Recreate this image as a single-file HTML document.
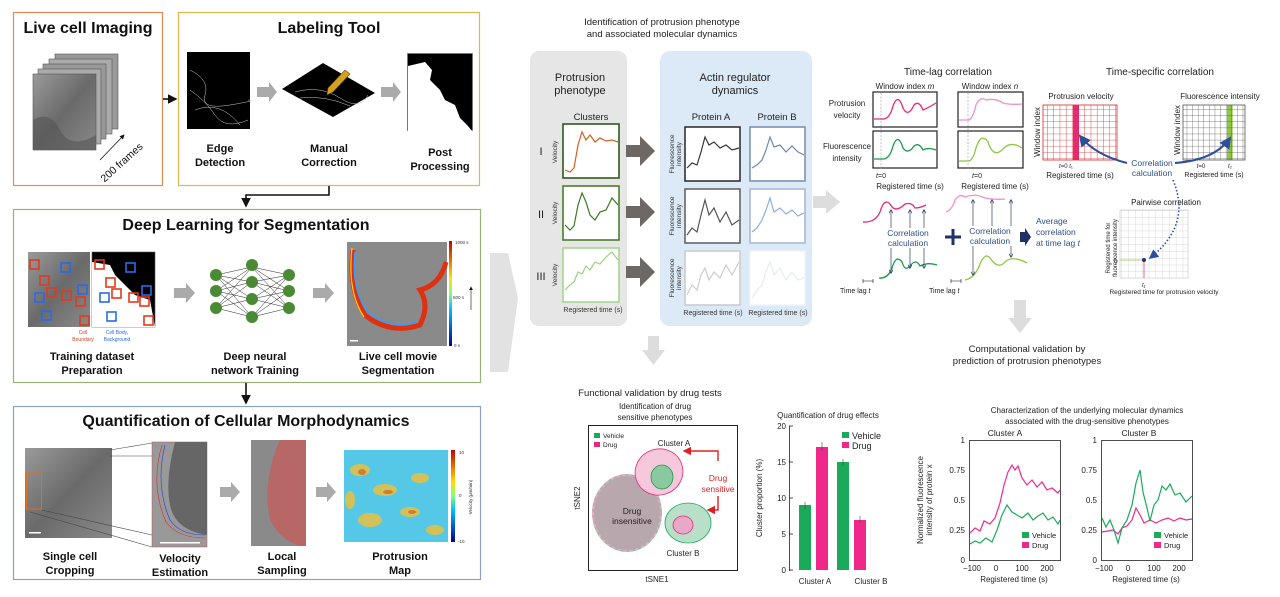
<!DOCTYPE html>
<html><head><meta charset="utf-8"><style>
html,body{margin:0;padding:0;background:#fff;}
svg{display:block;font-family:"Liberation Sans",Arial,sans-serif;}
.t{font-size:9.5px;fill:#222;}
.b{font-weight:bold;font-size:11px;fill:#111;}
.h{font-weight:bold;font-size:16px;fill:#111;}
</style></head><body>
<svg width="1280" height="597" viewBox="0 0 1280 597" xmlns="http://www.w3.org/2000/svg">
<defs>
<marker id="ak" markerWidth="6" markerHeight="6" refX="5" refY="3" orient="auto"><path d="M0,0L6,3L0,6z" fill="#111"/></marker>
<marker id="an" markerWidth="6" markerHeight="6" refX="5" refY="3" orient="auto"><path d="M0,0L6,3L0,6" fill="none" stroke="#2d3e66" stroke-width="1"/></marker>
<marker id="ab" markerWidth="6" markerHeight="6" refX="5" refY="3" orient="auto"><path d="M0,0L6,3L0,6z" fill="#2d4f9a"/></marker>
<marker id="ar" markerWidth="6" markerHeight="6" refX="5" refY="3" orient="auto"><path d="M0,0L6,3L0,6z" fill="#e02020"/></marker>
<pattern id="rg" width="6.2" height="6.1" patternUnits="userSpaceOnUse"><path d="M6.2,0V6.1H0" fill="none" stroke="#d42a2a" stroke-width="0.8"/></pattern>
<pattern id="kg" width="5.6" height="6.1" patternUnits="userSpaceOnUse"><path d="M5.6,0V6.1H0" fill="none" stroke="#555" stroke-width="0.7"/></pattern>
<pattern id="lg" width="6.8" height="6.8" patternUnits="userSpaceOnUse"><path d="M6.8,0V6.8H0" fill="none" stroke="#ccc" stroke-width="0.7"/></pattern>
<linearGradient id="jet" x1="0" y1="1" x2="0" y2="0"><stop offset="0" stop-color="#00008f"/><stop offset="0.35" stop-color="#00c0ff"/><stop offset="0.5" stop-color="#80ff80"/><stop offset="0.65" stop-color="#ffe000"/><stop offset="1" stop-color="#c00000"/></linearGradient>
<linearGradient id="gcell" x1="0" y1="0" x2="1" y2="1"><stop offset="0" stop-color="#9a9a9a"/><stop offset="0.5" stop-color="#6a6a6a"/><stop offset="1" stop-color="#8a8a8a"/></linearGradient>
</defs>

<!-- ===== LEFT PANELS ===== -->
<rect x="13.5" y="12.5" width="149" height="173" fill="none" stroke="#e08a50" stroke-width="1.2"/>
<text x="88" y="33" class="h" text-anchor="middle">Live cell Imaging</text>
<g stroke="#555" stroke-width="0.6">
<rect x="55" y="54" width="63" height="75" fill="#999"/>
<rect x="49" y="59" width="63" height="75" fill="#aaa"/>
<rect x="43" y="64" width="63" height="75" fill="#999"/>
<rect x="38" y="69" width="63" height="75" fill="#aaa"/>
<rect x="33" y="74" width="63" height="76" fill="url(#gcell)"/>
</g>
<path d="M33,120 Q50,110 60,130 T96,135 V150 H33z" fill="#555" opacity="0.6"/>
<line x1="100" y1="160" x2="124" y2="135" stroke="#111" stroke-width="0.8" marker-end="url(#ak)"/>
<text x="124" y="165" font-size="10.5" fill="#111" transform="rotate(-42 124 165)" text-anchor="middle">200 frames</text>

<line x1="163" y1="99" x2="176" y2="99" stroke="#111" stroke-width="1.6" marker-end="url(#ak)"/>

<rect x="178.5" y="12.5" width="301" height="173" fill="none" stroke="#e0b84a" stroke-width="1.2"/>
<text x="329" y="33" class="h" text-anchor="middle">Labeling Tool</text>
<rect x="187" y="52" width="63" height="77" fill="#000"/>
<path d="M190,70 Q210,80 205,95 T230,105 T248,100 M190,90 Q205,100 215,115 T248,120 M195,110 Q220,100 240,125" stroke="#ccc" stroke-width="0.5" fill="none"/>
<polygon points="257,87 269,87 269,82 277,92 269,102 269,97 257,97" fill="#aaa"/>
<polygon points="282,89 323,63 375,93 333,117" fill="#000"/>
<path d="M295,92 Q320,85 340,98 T368,95 M300,98 Q325,95 350,106" stroke="#ccc" stroke-width="0.5" fill="none"/>
<polygon points="328,88 345,70 350,74 333,92 327,95" fill="#d4a020" stroke="#6a4a00" stroke-width="0.6"/>
<polygon points="381,87 393,87 393,82 401,92 393,102 393,97 381,97" fill="#aaa"/>
<rect x="407.5" y="53.5" width="65" height="77" fill="#000" stroke="#777" stroke-width="0.8"/>
<path d="M408,66 L425,62 L432,70 L430,80 L440,90 L445,100 L455,105 L460,118 L468,126 L472,131 H408z" fill="#fff"/>
<text x="220" y="152" class="b" text-anchor="middle">Edge</text>
<text x="220" y="166" class="b" text-anchor="middle">Detection</text>
<text x="329" y="152" class="b" text-anchor="middle">Manual</text>
<text x="329" y="166" class="b" text-anchor="middle">Correction</text>
<text x="440" y="156" class="b" text-anchor="middle">Post</text>
<text x="440" y="170" class="b" text-anchor="middle">Processing</text>

<polyline points="329,186 329,195 246,195 246,206" fill="none" stroke="#111" stroke-width="1.6" marker-end="url(#ak)"/>

<rect x="13.5" y="209.5" width="467" height="173" fill="none" stroke="#9ab07a" stroke-width="1.2"/>
<text x="246" y="230" class="h" text-anchor="middle">Deep Learning for Segmentation</text>
<rect x="28" y="252" width="62" height="75" fill="url(#gcell)"/>
<rect x="92" y="252" width="63" height="75" fill="#000" stroke="#555" stroke-width="0.6"/>
<path d="M92,262 L110,265 L115,275 L125,285 L135,295 L150,300 L155,327 H92z" fill="#fff"/>
<g fill="none" stroke="#e23a1a" stroke-width="1.6">
<rect x="30" y="260" width="9" height="9"/><rect x="40" y="276" width="9" height="9"/><rect x="47" y="288" width="9" height="9"/><rect x="62" y="291" width="9" height="9"/><rect x="76" y="297" width="9" height="9"/><rect x="80" y="316" width="9" height="9"/>
<rect x="95" y="260" width="9" height="9"/><rect x="106" y="278" width="9" height="9"/><rect x="112" y="289" width="9" height="9"/><rect x="129" y="293" width="9" height="9"/><rect x="140" y="297" width="9" height="9"/><rect x="144" y="316" width="9" height="9"/>
</g>
<g fill="none" stroke="#2a6ae8" stroke-width="1.6">
<rect x="61" y="263" width="9" height="9"/><rect x="78" y="285" width="9" height="9"/><rect x="35" y="293" width="9" height="9"/><rect x="42" y="311" width="9" height="9"/>
<rect x="126" y="263" width="9" height="9"/><rect x="142" y="286" width="9" height="9"/><rect x="100" y="293" width="9" height="9"/><rect x="107" y="312" width="9" height="9"/>
</g>
<text x="83" y="334" font-size="5" fill="#e23a1a" text-anchor="middle">Cell</text>
<text x="83" y="341" font-size="5" fill="#e23a1a" text-anchor="middle">Boundary</text>
<text x="117" y="334" font-size="5" fill="#2a6ae8" text-anchor="middle">Cell Body,</text>
<text x="117" y="341" font-size="5" fill="#2a6ae8" text-anchor="middle">Background</text>
<polygon points="174,288 186,288 186,283 195,293 186,303 186,298 174,298" fill="#aaa"/>
<g stroke="#222" stroke-width="0.5">
<path d="M216,275L252,267M216,275L252,282M216,275L252,299M216,275L252,317M216,291L252,267M216,291L252,282M216,291L252,299M216,291L252,317M216,308L252,267M216,308L252,282M216,308L252,299M216,308L252,317M252,267L289,275M252,267L289,291M252,267L289,308M252,282L289,275M252,282L289,291M252,282L289,308M252,299L289,275M252,299L289,291M252,299L289,308M252,317L289,275M252,317L289,291M252,317L289,308"/>
</g>
<g fill="#4a8a34"><circle cx="216" cy="275" r="6"/><circle cx="216" cy="291" r="6"/><circle cx="216" cy="308" r="6"/><circle cx="252" cy="265" r="6"/><circle cx="252" cy="282" r="6"/><circle cx="252" cy="299" r="6"/><circle cx="252" cy="317" r="6"/><circle cx="289" cy="275" r="6"/><circle cx="289" cy="291" r="6"/><circle cx="289" cy="308" r="6"/></g>
<polygon points="313,288 325,288 325,283 334,293 325,303 325,298 313,298" fill="#aaa"/>
<rect x="347" y="242" width="100" height="104" fill="#8a8a8a"/>
<path d="M353,250 Q348,290 365,315 Q390,335 420,325 Q430,305 420,290 Q440,285 446,262" fill="none" stroke="#e03010" stroke-width="5"/>
<path d="M355,252 Q351,290 368,312 Q390,330 416,322" fill="none" stroke="#30a0ff" stroke-width="1.5"/>
<path d="M352,248 Q347,292 364,317" fill="none" stroke="#ffd000" stroke-width="1.2"/>
<rect x="350" y="340" width="8" height="1.5" fill="#fff"/>
<rect x="449" y="241" width="3" height="105" fill="url(#jet)"/>
<text x="455" y="244" font-size="4.5" fill="#333">1000 s</text>
<text x="453" y="299" font-size="4.5" fill="#333">500 s</text>
<text x="454" y="347" font-size="4.5" fill="#333">0 s</text>
<line x1="471" y1="310" x2="471" y2="287" stroke="#111" stroke-width="0.6" marker-end="url(#ak)"/>
<text x="92" y="360" class="b" text-anchor="middle">Training dataset</text>
<text x="92" y="374" class="b" text-anchor="middle">Preparation</text>
<text x="255" y="360" class="b" text-anchor="middle">Deep neural</text>
<text x="255" y="374" class="b" text-anchor="middle">network Training</text>
<text x="398" y="360" class="b" text-anchor="middle">Live cell movie</text>
<text x="398" y="374" class="b" text-anchor="middle">Segmentation</text>

<line x1="246" y1="383" x2="246" y2="403" stroke="#111" stroke-width="1.6" marker-end="url(#ak)"/>

<rect x="13.5" y="406.5" width="467" height="173" fill="none" stroke="#8ca0d0" stroke-width="1.2"/>
<text x="246" y="426" class="h" text-anchor="middle">Quantification of Cellular Morphodynamics</text>
<rect x="25" y="448" width="87" height="90" fill="url(#gcell)"/>
<rect x="26.5" y="473" width="15" height="36" fill="none" stroke="#e07020" stroke-width="1"/>
<rect x="29" y="532" width="12" height="1.5" fill="#fff"/>
<path d="M110,450L152,443M110,456L152,456M42,510L152,535M30,512L152,547" stroke="#444" stroke-width="0.6" fill="none"/>
<rect x="152" y="442" width="55" height="105" fill="#999" stroke="#c05050" stroke-width="0.5"/>
<path d="M175,442 Q165,480 170,505 Q175,530 207,535 V442z" fill="#666"/>
<path d="M165,445 Q155,485 170,520 Q180,535 205,535" fill="none" stroke="#2a3ae0" stroke-width="0.6"/>
<path d="M162,445 Q150,485 166,522 Q178,538 205,538" fill="none" stroke="#d03030" stroke-width="0.6"/>
<rect x="160" y="542" width="40" height="1.5" fill="#fff"/>
<polygon points="220,487 231,487 231,482 240,492 231,502 231,497 220,497" fill="#aaa"/>
<rect x="251" y="440" width="55" height="106" fill="#8a8a8a"/>
<path d="M280,440 Q262,480 270,520 Q280,540 300,546 H306 V440z" fill="#c06060" opacity="0.85"/>
<polygon points="316,487 327,487 327,482 336,492 327,502 327,497 316,497" fill="#aaa"/>
<rect x="344" y="450" width="104" height="92" fill="#55c8e8"/>
<g fill="#e8c040" opacity="0.85">
<ellipse cx="360" cy="470" rx="10" ry="6"/><ellipse cx="385" cy="490" rx="12" ry="6"/><ellipse cx="420" cy="478" rx="9" ry="5"/><ellipse cx="370" cy="520" rx="12" ry="7"/><ellipse cx="410" cy="512" rx="10" ry="5"/><ellipse cx="435" cy="530" rx="9" ry="5"/><ellipse cx="350" cy="500" rx="5" ry="9"/>
</g>
<g fill="#d06020" opacity="0.7"><ellipse cx="362" cy="472" rx="4" ry="3"/><ellipse cx="388" cy="492" rx="5" ry="2"/><ellipse cx="412" cy="512" rx="4" ry="2"/></g>
<rect x="451" y="450" width="4" height="92" fill="url(#jet)"/>
<text x="459" y="454" font-size="4.5" fill="#333">10</text>
<text x="459" y="497" font-size="4.5" fill="#333">0</text>
<text x="458" y="543" font-size="4.5" fill="#333">-10</text>
<text x="472" y="497" font-size="4.5" fill="#333" transform="rotate(-90 472 497)" text-anchor="middle">Velocity (μm/min)</text>
<text x="70" y="560" class="b" text-anchor="middle">Single cell</text>
<text x="70" y="574" class="b" text-anchor="middle">Cropping</text>
<text x="180" y="562" class="b" text-anchor="middle">Velocity</text>
<text x="180" y="576" class="b" text-anchor="middle">Estimation</text>
<text x="282" y="560" class="b" text-anchor="middle">Local</text>
<text x="282" y="574" class="b" text-anchor="middle">Sampling</text>
<text x="400" y="560" class="b" text-anchor="middle">Protrusion</text>
<text x="400" y="574" class="b" text-anchor="middle">Map</text>

<!-- big chevron -->
<polygon points="490,253 508,253 518,298 508,372 490,372" fill="#e2e2e2"/>

<!-- ===== RIGHT TOP ===== -->
<text x="662" y="25" class="t" text-anchor="middle">Identification of  protrusion phenotype</text>
<text x="662" y="37" class="t" text-anchor="middle">and associated molecular dynamics</text>
<rect x="530" y="51" width="97" height="275" rx="9" fill="#e6e6e6"/>
<rect x="660" y="51" width="152" height="275" rx="10" fill="#dce9f6"/>
<text x="580" y="81" font-size="11" fill="#222" text-anchor="middle">Protrusion</text>
<text x="580" y="94" font-size="11" fill="#222" text-anchor="middle">phenotype</text>
<text x="591" y="120" class="t" text-anchor="middle">Clusters</text>
<text x="735" y="81" font-size="11" fill="#222" text-anchor="middle">Actin regulator</text>
<text x="735" y="94" font-size="11" fill="#222" text-anchor="middle">dynamics</text>
<text x="711" y="120" class="t" text-anchor="middle">Protein A</text>
<text x="777" y="120" class="t" text-anchor="middle">Protein B</text>
<g fill="#fff" stroke-width="1.6">
<rect x="563" y="124" width="56" height="54" stroke="#2f5a1f"/>
<rect x="563" y="186" width="56" height="54" stroke="#4a7f2a"/>
<rect x="563" y="248" width="56" height="54" stroke="#a6d690"/>
<rect x="685" y="127" width="55" height="54" stroke="#333"/>
<rect x="685" y="189" width="55" height="54" stroke="#666"/>
<rect x="685" y="251" width="55" height="54" stroke="#ccc"/>
<rect x="750" y="127" width="55" height="54" stroke="#7f93b0"/>
<rect x="750" y="189" width="55" height="54" stroke="#a9b9d0"/>
<rect x="750" y="251" width="55" height="54" stroke="#f2f4f8"/>
</g>
<polyline points="565,170 570,172 574,168 578,145 582,132 586,140 590,135 595,142 600,138 606,141 612,140 618,142" fill="none" stroke="#d06020" stroke-width="1.2"/>
<polyline points="565,225 570,230 574,226 578,205 582,193 586,202 590,215 595,220 600,212 606,210 612,198 618,205" fill="none" stroke="#3a7a22" stroke-width="1.2"/>
<polyline points="565,290 570,285 574,282 578,272 582,274 586,266 590,270 595,262 600,264 606,257 612,252 618,260" fill="none" stroke="#9fd080" stroke-width="1.2"/>
<polyline points="687,168 692,163 697,165 701,152 705,137 709,145 714,142 720,148 726,145 732,150 739,148" fill="none" stroke="#333" stroke-width="1.2"/>
<polyline points="752,168 757,165 762,160 766,150 770,137 774,147 780,145 786,152 792,146 798,152 804,155" fill="none" stroke="#6f88a8" stroke-width="1.2"/>
<polyline points="687,235 692,228 697,232 701,215 705,200 709,215 714,208 720,222 726,212 732,225 739,220" fill="none" stroke="#555" stroke-width="1.2"/>
<polyline points="752,232 757,228 762,220 766,210 770,198 774,212 780,208 786,214 792,210 798,216 804,213" fill="none" stroke="#8cb0d8" stroke-width="1.2"/>
<polyline points="687,295 692,285 697,290 701,275 705,268 709,280 714,272 720,278 726,265 732,275 739,262" fill="none" stroke="#ccc" stroke-width="1.2"/>
<polyline points="752,298 757,290 762,285 766,272 770,262 774,275 780,268 786,280 792,272 798,280 804,278" fill="none" stroke="#e6ecf4" stroke-width="1.2"/>
<g font-size="6.5" fill="#333">
<text x="557" y="152" transform="rotate(-90 557 152)" text-anchor="middle">Velocity</text>
<text x="557" y="213" transform="rotate(-90 557 213)" text-anchor="middle">Velocity</text>
<text x="557" y="275" transform="rotate(-90 557 275)" text-anchor="middle">Velocity</text>
<text x="674" y="154" transform="rotate(-90 674 154)" text-anchor="middle">Fluorescence</text>
<text x="681" y="154" transform="rotate(-90 681 154)" text-anchor="middle">intensity</text>
<text x="674" y="216" transform="rotate(-90 674 216)" text-anchor="middle">Fluorescence</text>
<text x="681" y="216" transform="rotate(-90 681 216)" text-anchor="middle">intensity</text>
<text x="674" y="278" transform="rotate(-90 674 278)" text-anchor="middle">Fluorescence</text>
<text x="681" y="278" transform="rotate(-90 681 278)" text-anchor="middle">intensity</text>
</g>
<text x="541" y="155" font-size="11" fill="#222" text-anchor="middle">I</text>
<text x="541" y="218" font-size="11" fill="#222" text-anchor="middle">II</text>
<text x="541" y="280" font-size="11" fill="#222" text-anchor="middle">III</text>
<text x="593" y="312" font-size="7" fill="#333" text-anchor="middle">Registered time (s)</text>
<text x="713" y="315" font-size="7" fill="#333" text-anchor="middle">Registered time (s)</text>
<text x="778" y="315" font-size="7" fill="#333" text-anchor="middle">Registered time (s)</text>
<g fill="#6e6864">
<polygon points="626,145 640,145 640,136 655,151 640,166 640,157 626,157"/>
<polygon points="626,206 640,206 640,197 655,212 640,227 640,218 626,218"/>
<polygon points="626,266 640,266 640,257 655,272 640,287 640,278 626,278"/>
</g>
<polygon points="813,196 826,196 826,190 840,202 826,214 826,208 813,208" fill="#ddd"/>

<!-- time-lag -->
<text x="948" y="75" font-size="10" fill="#222" text-anchor="middle">Time-lag correlation</text>
<text x="905" y="89" font-size="8" fill="#222" text-anchor="middle">Window index <tspan font-style="italic">m</tspan></text>
<text x="990" y="89" font-size="8" fill="#222" text-anchor="middle">Window index <tspan font-style="italic">n</tspan></text>
<text x="847" y="106" font-size="8" fill="#222" text-anchor="middle">Protrusion</text>
<text x="847" y="118" font-size="8" fill="#222" text-anchor="middle">velocity</text>
<text x="847" y="149" font-size="8" fill="#222" text-anchor="middle">Fluorescence</text>
<text x="847" y="161" font-size="8" fill="#222" text-anchor="middle">intensity</text>
<g fill="#fff" stroke="#222" stroke-width="1.2">
<rect x="873" y="92" width="64" height="35"/><rect x="873" y="131" width="64" height="37"/>
<rect x="958" y="92" width="65" height="35"/><rect x="958" y="131" width="65" height="37"/>
</g>
<line x1="881" y1="93" x2="881" y2="170" stroke="#999" stroke-dasharray="2,1.5" stroke-width="0.6"/>
<line x1="968" y1="93" x2="968" y2="170" stroke="#999" stroke-dasharray="2,1.5" stroke-width="0.6"/>
<path d="M874,119 L884,119 Q890,118 893,106 Q898,92 903,108 Q908,118 914,105 Q919,100 923,110 Q928,108 936,103" fill="none" stroke="#e8287a" stroke-width="1.3"/>
<path d="M874,159 L884,159 Q890,158 893,146 Q898,132 903,148 Q908,155 914,146 Q919,142 923,150 Q928,147 936,150" fill="none" stroke="#1a9a4a" stroke-width="1.3"/>
<path d="M959,120 L969,120 Q973,118 976,105 Q980,96 986,100 Q996,98 1003,103 Q1010,105 1022,104" fill="none" stroke="#f090c8" stroke-width="1.3"/>
<path d="M959,161 L969,161 Q973,160 976,148 Q981,132 988,142 Q993,158 1002,150 Q1010,140 1022,148" fill="none" stroke="#8cc840" stroke-width="1.3"/>
<text x="881" y="178" font-size="7" fill="#222" text-anchor="middle"><tspan font-style="italic">t</tspan>=0</text>
<text x="977" y="178" font-size="7" fill="#222" text-anchor="middle"><tspan font-style="italic">t</tspan>=0</text>
<text x="910" y="189" font-size="8" fill="#222" text-anchor="middle">Registered time (s)</text>
<text x="995" y="189" font-size="8" fill="#222" text-anchor="middle">Registered time (s)</text>
<path d="M863,222 Q875,223 880,212 Q885,195 892,207 Q897,212 905,204 Q912,202 915,208 Q920,208 926,205" fill="none" stroke="#e8287a" stroke-width="1.3"/>
<path d="M946,212 Q952,210 955,200 Q960,193 965,197 Q975,193 985,198 Q995,200 1005,199" fill="none" stroke="#f090c8" stroke-width="1.3"/>
<path d="M879,278 Q888,279 892,268 Q896,254 902,262 Q905,272 910,266 Q916,258 920,266 Q928,262 937,265" fill="none" stroke="#1a9a4a" stroke-width="1.3"/>
<path d="M965,280 Q975,278 980,264 Q985,252 990,258 Q998,270 1005,262 Q1012,255 1027,263" fill="none" stroke="#8cc840" stroke-width="1.3"/>
<g stroke="#2d3e66" stroke-width="0.7" marker-end="url(#an)">
<line x1="891" y1="228" x2="891" y2="210"/><line x1="910" y1="228" x2="910" y2="210"/><line x1="924" y1="228" x2="924" y2="210"/>
<line x1="891" y1="248" x2="891" y2="273"/><line x1="910" y1="248" x2="910" y2="268"/><line x1="924" y1="248" x2="924" y2="268"/>
<line x1="973" y1="226" x2="973" y2="200"/><line x1="992" y1="226" x2="992" y2="200"/><line x1="1011" y1="226" x2="1011" y2="200"/>
<line x1="973" y1="246" x2="973" y2="275"/><line x1="1011" y1="246" x2="1011" y2="257"/>
</g>
<text x="908" y="236" font-size="8.5" fill="#2d4f8a" text-anchor="middle">Correlation</text>
<text x="908" y="246" font-size="8.5" fill="#2d4f8a" text-anchor="middle">calculation</text>
<text x="990" y="234" font-size="8.5" fill="#2d4f8a" text-anchor="middle">Correlation</text>
<text x="990" y="244" font-size="8.5" fill="#2d4f8a" text-anchor="middle">calculation</text>
<path d="M953,229 V245 M945,237 H961" stroke="#1f3266" stroke-width="3"/>
<polygon points="1020,232 1025,232 1025,228 1031,237 1025,246 1025,242 1020,242" fill="#1f3266"/>
<text x="1036" y="224" font-size="8.5" fill="#2d4f8a">Average</text>
<text x="1036" y="235" font-size="8.5" fill="#2d4f8a">correlation</text>
<text x="1036" y="246" font-size="8.5" fill="#2d4f8a">at time lag <tspan font-style="italic">t</tspan></text>
<g stroke="#111" stroke-width="0.6"><path d="M863,281 H873 M863,279 V283 M873,279 V283"/><path d="M951,281 H961 M951,279 V283 M961,279 V283"/></g>
<text x="840" y="293" font-size="7" fill="#222">Time lag  <tspan font-style="italic">t</tspan></text>
<text x="929" y="293" font-size="7" fill="#222">Time lag  <tspan font-style="italic">t</tspan></text>

<!-- time-specific -->
<text x="1160" y="75" font-size="10" fill="#222" text-anchor="middle">Time-specific correlation</text>
<text x="1081" y="99" font-size="8" fill="#222" text-anchor="middle">Protrusion velocity</text>
<text x="1220" y="99" font-size="8" fill="#222" text-anchor="middle">Fluorescence intensity</text>
<rect x="1043" y="105" width="74" height="55" fill="#fff"/>
<rect x="1073" y="105" width="6" height="55" fill="#e8287a"/>
<rect x="1043" y="105" width="74" height="55" fill="url(#rg)" stroke="#d42a2a" stroke-width="0.8"/>
<rect x="1183" y="105" width="62" height="55" fill="#fff"/>
<rect x="1227" y="105" width="5.6" height="55" fill="#8cc840"/>
<rect x="1183" y="105" width="62" height="55" fill="url(#kg)" stroke="#555" stroke-width="0.8"/>
<text x="1040" y="132" font-size="8" fill="#222" transform="rotate(-90 1040 132)" text-anchor="middle">Window index</text>
<text x="1180" y="130" font-size="8" fill="#222" transform="rotate(-90 1180 130)" text-anchor="middle">Window index</text>
<path d="M1127,163 Q1095,155 1080,136" fill="none" stroke="#2d4f9a" stroke-width="2" marker-end="url(#ab)"/>
<path d="M1175,163 Q1215,160 1230,138" fill="none" stroke="#2d4f9a" stroke-width="2" marker-end="url(#ab)"/>
<text x="1152" y="166" font-size="8.5" fill="#2d4f8a" text-anchor="middle">Correlation</text>
<text x="1152" y="176" font-size="8.5" fill="#2d4f8a" text-anchor="middle">calculation</text>
<text x="1066" y="168" font-size="6" fill="#222" text-anchor="middle"><tspan font-style="italic">t</tspan>=0 <tspan font-style="italic">t</tspan>₁</text>
<text x="1080" y="178" font-size="8" fill="#222" text-anchor="middle">Registered time (s)</text>
<text x="1201" y="168" font-size="6" fill="#222" text-anchor="middle"><tspan font-style="italic">t</tspan>=0</text>
<text x="1230" y="168" font-size="6" fill="#222" text-anchor="middle"><tspan font-style="italic">t</tspan>₂</text>
<text x="1214" y="177" font-size="7" fill="#222" text-anchor="middle">Registered time (s)</text>
<text x="1166" y="205" font-size="8" fill="#222" text-anchor="middle">Pairwise correlation</text>
<rect x="1120" y="210" width="68" height="68" fill="url(#lg)" stroke="#ccc" stroke-width="0.7"/>
<line x1="1120" y1="260" x2="1144" y2="260" stroke="#8cc840" stroke-width="0.7"/>
<line x1="1144" y1="260" x2="1144" y2="278" stroke="#e8287a" stroke-width="0.7"/>
<path d="M1173,180 Q1192,225 1150,258" fill="none" stroke="#2d4f9a" stroke-width="1.6" stroke-dasharray="1.5,2" marker-end="url(#ab)"/>
<circle cx="1144" cy="260" r="2" fill="#1f3266"/>
<text x="1110" y="248" font-size="6" fill="#222" transform="rotate(-90 1110 248)" text-anchor="middle">Registered time for</text>
<text x="1117" y="248" font-size="6" fill="#222" transform="rotate(-90 1117 248)" text-anchor="middle">fluorescence intensity</text>
<text x="1114" y="262" font-size="6" fill="#222" font-style="italic">t₂</text>
<text x="1142" y="287" font-size="6" fill="#222" font-style="italic">t₁</text>
<text x="1164" y="294" font-size="6.5" fill="#222" text-anchor="middle">Registered time for  protrusion velocity</text>

<polygon points="1014,300 1026,300 1026,318 1032,318 1020,333 1008,318 1014,318" fill="#ddd"/>
<text x="1027" y="352" font-size="9.5" fill="#222" text-anchor="middle">Computational validation by</text>
<text x="1027" y="364" font-size="9.5" fill="#222" text-anchor="middle">prediction of protrusion phenotypes</text>
<polygon points="648,336 659,336 659,350 665,350 653.5,365 642,350 648,350" fill="#ddd"/>

<!-- ===== BOTTOM ===== -->
<text x="650" y="396" font-size="9.5" fill="#222" text-anchor="middle">Functional validation by drug tests</text>
<text x="655" y="409" font-size="8" fill="#222" text-anchor="middle">Identification of drug</text>
<text x="655" y="420" font-size="8" fill="#222" text-anchor="middle">sensitive phenotypes</text>
<rect x="588.5" y="425.5" width="149" height="145" fill="#fff" stroke="#222" stroke-width="1"/>
<text x="657" y="582" font-size="8" fill="#222" text-anchor="middle">tSNE1</text>
<text x="580" y="498" font-size="8" fill="#222" transform="rotate(-90 580 498)" text-anchor="middle">tSNE2</text>
<rect x="594" y="433" width="6" height="5" fill="#1aaa5a"/><text x="603" y="438" font-size="6.5" fill="#222">Vehicle</text>
<rect x="594" y="442" width="6" height="5" fill="#e8287a"/><text x="603" y="447" font-size="6.5" fill="#222">Drug</text>
<ellipse cx="627" cy="513" rx="34" ry="38" fill="#b8a8ae" stroke="#f0a8c8" stroke-width="2"/>
<ellipse cx="627" cy="513" rx="34" ry="38" fill="none" stroke="#7cc89a" stroke-width="1.5" stroke-dasharray="3,3"/>
<text x="632" y="514" font-size="8.5" fill="#222" text-anchor="middle">Drug</text>
<text x="632" y="524" font-size="8.5" fill="#222" text-anchor="middle">insensitive</text>
<ellipse cx="659" cy="472" rx="24" ry="23" fill="#f5c8dc" stroke="#e8287a" stroke-width="0.8" transform="rotate(-20 659 472)"/>
<ellipse cx="662" cy="477" rx="11" ry="12" fill="#8ac8a0" stroke="#1a9a4a" stroke-width="0.8"/>
<text x="674" y="446" font-size="8" fill="#222" text-anchor="middle">Cluster A</text>
<ellipse cx="688" cy="523" rx="23" ry="20" fill="#b8e0c8" stroke="#1aaa5a" stroke-width="0.8"/>
<ellipse cx="683" cy="525" rx="10" ry="9" fill="#e8a8c8" stroke="#e8287a" stroke-width="0.8"/>
<text x="683" y="556" font-size="8" fill="#222" text-anchor="middle">Cluster B</text>
<polyline points="718,461 718,451 684,451" fill="none" stroke="#e02020" stroke-width="1.4" marker-end="url(#ar)"/>
<polyline points="718,496 718,510 708,510" fill="none" stroke="#e02020" stroke-width="1.4" marker-end="url(#ar)"/>
<text x="718" y="481" font-size="8.5" fill="#e02020" text-anchor="middle">Drug</text>
<text x="718" y="492" font-size="8.5" fill="#e02020" text-anchor="middle">sensitive</text>

<text x="828" y="418" font-size="8" fill="#222" text-anchor="middle">Quantification of drug effects</text>
<line x1="789.5" y1="426" x2="789.5" y2="571" stroke="#222" stroke-width="0.8"/>
<g stroke="#222" stroke-width="0.8"><line x1="789" y1="426" x2="793" y2="426"/><line x1="789" y1="462" x2="793" y2="462"/><line x1="789" y1="498" x2="793" y2="498"/><line x1="789" y1="534" x2="793" y2="534"/><line x1="789" y1="570" x2="793" y2="570"/></g>
<g font-size="8" fill="#222" text-anchor="end"><text x="786" y="429">20</text><text x="786" y="465">15</text><text x="786" y="501">10</text><text x="786" y="537">5</text><text x="786" y="573">0</text></g>
<text x="762" y="498" font-size="8" fill="#222" transform="rotate(-90 762 498)" text-anchor="middle">Cluster proportion (%)</text>
<rect x="799" y="505" width="12" height="65" fill="#1aaa5a"/>
<rect x="816" y="447" width="12" height="123" fill="#f0288a"/>
<rect x="837" y="462" width="12" height="108" fill="#1aaa5a"/>
<rect x="854" y="520" width="12" height="50" fill="#f0288a"/>
<g stroke="#444" stroke-width="0.6"><path d="M805,502V509M822,442V451M843,459V466M860,516V523"/></g>
<rect x="842" y="432" width="7" height="6" fill="#1aaa5a"/><text x="852" y="439" font-size="9" fill="#222">Vehicle</text>
<rect x="842" y="442" width="7" height="6" fill="#f0288a"/><text x="852" y="449" font-size="9" fill="#222">Drug</text>
<text x="815" y="584" font-size="8" fill="#222" text-anchor="middle">Cluster A</text>
<text x="871" y="584" font-size="8" fill="#222" text-anchor="middle">Cluster B</text>

<text x="1087" y="413" font-size="8" fill="#222" text-anchor="middle">Characterization of the underlying molecular dynamics</text>
<text x="1087" y="424" font-size="8" fill="#222" text-anchor="middle">associated with the drug-sensitive phenotypes</text>
<text x="1005" y="436" font-size="8.5" fill="#222" text-anchor="middle">Cluster A</text>
<text x="1139" y="436" font-size="8.5" fill="#222" text-anchor="middle">Cluster B</text>
<rect x="969.5" y="440.5" width="91" height="120" fill="none" stroke="#222" stroke-width="0.8"/>
<rect x="1101.5" y="440.5" width="91" height="120" fill="none" stroke="#222" stroke-width="0.8"/>
<g font-size="8" fill="#222" text-anchor="end">
<text x="965" y="443">1</text><text x="965" y="473">0.75</text><text x="965" y="503">0.5</text><text x="965" y="533">0.25</text><text x="965" y="563">0</text>
<text x="1097" y="443">1</text><text x="1097" y="473">0.75</text><text x="1097" y="503">0.5</text><text x="1097" y="533">0.25</text><text x="1097" y="563">0</text>
</g>
<g font-size="8" fill="#222" text-anchor="middle">
<text x="972" y="571">−100</text><text x="996" y="571">0</text><text x="1022" y="571">100</text><text x="1047" y="571">200</text>
<text x="1104" y="571">−100</text><text x="1128" y="571">0</text><text x="1154" y="571">100</text><text x="1179" y="571">200</text>
<text x="1014" y="582">Registered time (s)</text><text x="1146" y="582">Registered time (s)</text>
</g>
<text x="923" y="500" font-size="8" fill="#222" transform="rotate(-90 923 500)" text-anchor="middle">Normalized fluorescence</text>
<text x="932" y="500" font-size="8" fill="#222" transform="rotate(-90 932 500)" text-anchor="middle">intensity of protein x</text>
<polyline points="970,533 975,528 980,531 984,521 990,524 995,518 1000,503 1004,485 1008,472 1012,465 1015,470 1018,466 1022,478 1027,485 1032,480 1037,487 1042,482 1047,490 1052,488 1058,493 1060,490" fill="none" stroke="#f0288a" stroke-width="1.2"/>
<polyline points="970,544 975,541 980,543 986,538 992,542 997,530 1002,515 1007,505 1012,512 1017,515 1022,518 1028,513 1033,520 1038,516 1043,513 1048,520 1053,517 1058,524 1060,520" fill="none" stroke="#1aaa5a" stroke-width="1.2"/>
<polyline points="1102,532 1108,531 1113,530 1118,534 1122,528 1127,526 1132,520 1136,508 1140,515 1144,523 1150,520 1156,523 1162,520 1168,518 1174,521 1180,518 1186,520 1192,519" fill="none" stroke="#f0288a" stroke-width="1.2"/>
<polyline points="1102,518 1106,527 1110,520 1114,530 1118,543 1122,528 1127,520 1132,505 1136,483 1140,470 1143,492 1147,508 1150,521 1154,505 1158,500 1162,486 1166,490 1170,484 1175,495 1180,493 1186,502 1192,496" fill="none" stroke="#1aaa5a" stroke-width="1.2"/>
<rect x="1022" y="532" width="7" height="6" fill="#1aaa5a"/><text x="1032" y="538" font-size="7.5" fill="#222">Vehicle</text>
<rect x="1022" y="542" width="7" height="6" fill="#f0288a"/><text x="1032" y="548" font-size="7.5" fill="#222">Drug</text>
<rect x="1154" y="532" width="7" height="6" fill="#1aaa5a"/><text x="1164" y="538" font-size="7.5" fill="#222">Vehicle</text>
<rect x="1154" y="542" width="7" height="6" fill="#f0288a"/><text x="1164" y="548" font-size="7.5" fill="#222">Drug</text>
</svg>
</body></html>
